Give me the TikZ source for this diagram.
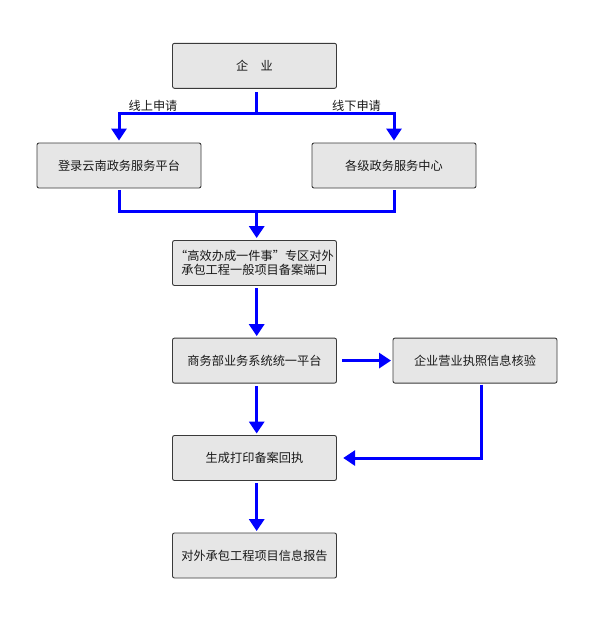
\documentclass[tikz,border=0pt]{standalone}
\usepackage{fontspec}
\setmainfont{Noto Sans CJK SC}
\usetikzlibrary{arrows.meta,calc}
\definecolor{boxfill}{HTML}{E6E6E6}
\definecolor{boxline}{HTML}{3A3A3A}
\definecolor{flowblue}{HTML}{0000FF}
\tikzset{
  box/.style={draw=boxline,line width=0.9pt,fill=boxfill,rounded corners=2pt,
    minimum width=164pt,minimum height=45pt,inner sep=1pt,align=center,
    font=\fontsize{12.2}{14.5}\selectfont,text=black!90},
  flow/.style={draw=flowblue,line width=3pt},
  arr/.style={-{Triangle[width=15pt,length=12pt]}},
  lab/.style={font=\fontsize{12.2}{14.5}\selectfont,text=black!90,inner sep=0pt}
}
\begin{document}
\begin{tikzpicture}[x=1pt,y=-1pt]
\useasboundingbox[fill=white] (0,0) rectangle (595,625);
\node[box] (a) at (254.5,65.8) {企　业};
\node[box] (b) at (119,165.5) {登录云南政务服务平台};
\node[box] (c) at (394,165.5) {各级政务服务中心};
\node[box] (d) at (254.5,263) {“高效办成一件事”专区对外\\承包工程一般项目备案端口};
\node[box] (e) at (254.5,360.6) {商务部业务系统统一平台};
\node[box] (f) at (475,360.6) {企业营业执照信息核验};
\node[box] (g) at (254.5,458) {生成打印备案回执};
\node[box] (h) at (254.5,555.5) {对外承包工程项目信息报告};
\node[lab] (l1) at (153,106) {线上申请};
\node[lab] (l2) at (356.5,106) {线下申请};
\coordinate (s1) at (256.7,113.3);
\coordinate (s2) at (256.7,211.7);
\draw[flow] ([xshift=2.2pt,yshift=-3.5pt]a.south) -- (s1);
\draw[flow,arr] (s1) -| ([yshift=2pt]b.north);
\draw[flow,arr] (s1) -| ([yshift=2pt]c.north);
\draw[flow] ([yshift=-1.5pt]b.south) |- (s2) -| ([yshift=-1.5pt]c.south);
\draw[flow,arr] (s2) -- ([xshift=2.2pt,yshift=2pt]d.north);
\draw[flow,arr] ([xshift=2.2pt,yshift=-2.5pt]d.south) -- ([xshift=2.2pt,yshift=1.5pt]e.north);
\draw[flow,arr] ([xshift=5.5pt]e.east) -- ([xshift=-1.5pt]f.west);
\draw[flow,arr] ([xshift=2.2pt,yshift=-2.5pt]e.south) -- ([xshift=2.2pt,yshift=1.5pt]g.north);
\draw[flow,arr] ([xshift=6.7pt,yshift=-1pt]f.south) |- ([xshift=6.2pt]g.east);
\draw[flow,arr] ([xshift=2.2pt,yshift=-2.5pt]g.south) -- ([xshift=2.2pt,yshift=1.5pt]h.north);
\end{tikzpicture}
\end{document}
